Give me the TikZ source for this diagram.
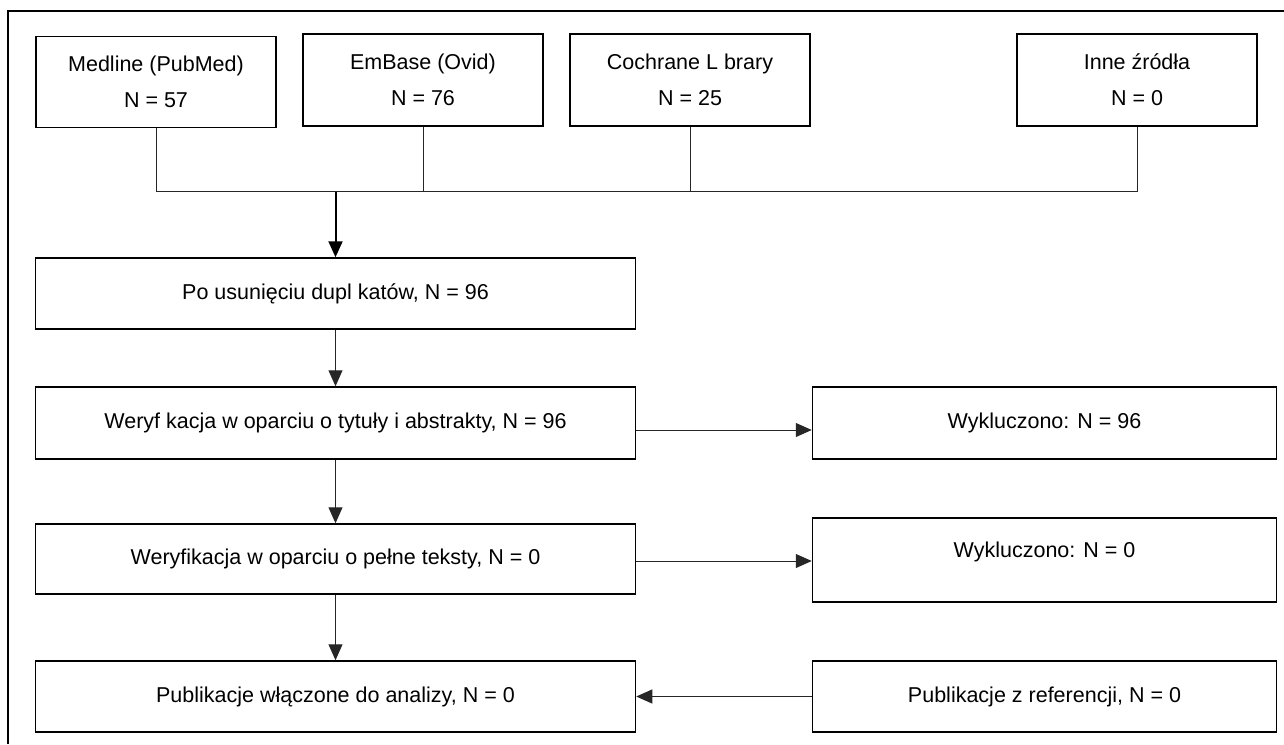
\documentclass[tikz,border=0pt]{standalone}
\usepackage{fontspec}
\setmainfont{Liberation Sans}
\usetikzlibrary{arrows.meta}
\begin{document}
\begin{tikzpicture}[x=1pt,y=-1pt,
  bx/.style={draw=black, line width=1.5pt, inner sep=0pt, align=center,
    font=\fontsize{21.5}{36}\selectfont, anchor=center},
  src/.style={bx, minimum width=240pt, minimum height=92pt},
  wide/.style={bx, minimum width=600pt, minimum height=71pt},
  side/.style={bx, minimum width=464pt, minimum height=71pt},
  conn/.style={draw=black!85, line width=1pt},
  arr/.style={conn, -{Triangle[length=16pt,width=14pt]}},
  frame/.style={draw=black, line width=1.2pt}]
\useasboundingbox (0,0) rectangle (1284,744);
\draw[frame] (8,744) -- (8,11) -- (1284,11);

\node[src, minimum height=91pt] (med) at (156,82) {Medline (PubMed)\\N = 57};
\node[src] (emb) at (423,80) {EmBase (Ovid)\\N = 76};
\node[src] (coch) at (690,80) {Cochrane L brary\\N = 25};
\node[src] (inne) at (1137,80) {Inne źródła\\N = 0};

\node[wide] (dup) at (335.5,293.5) {Po usunięciu dupl katów, N = 96};
\node[wide, minimum height=72pt] (wer1) at (335.5,423) {Weryf kacja w oparciu o tytuły i abstrakty, N = 96};
\node[side, minimum height=72pt] (wyk1) at (1044.5,423) {Wykluczono: N = 96};
\node[wide, minimum height=70pt] (wer2) at (335.5,559) {Weryfikacja w oparciu o pełne teksty, N = 0};
\node[side, minimum height=84pt] (wyk2) at (1044.5,560) {};
\node[font=\fontsize{21.5}{36}\selectfont, inner sep=0pt] (wyk2t) at ([yshift=8pt]wyk2.center) {Wykluczono: N = 0};
\node[wide] (pub) at (335.5,696.5) {Publikacje włączone do analizy, N = 0};
\node[side] (ref) at (1044.5,696.5) {Publikacje z referencji, N = 0};

\coordinate (jL) at (156,191.5);
\coordinate (jR) at (1137,191.5);
\draw[conn] (med.south) -- (jL) -- (jR) -- (inne.south);
\draw[conn] (emb.south) -- (emb.south |- jL);
\draw[conn] (coch.south) -- (coch.south |- jL);
\draw[arr, line width=2pt, draw=black] (dup.north |- jL) -- (dup.north);

\draw[arr] (dup.south) -- (wer1.north);
\draw[arr] ([yshift=-7pt]wer1.east) -- ([yshift=-7pt]wyk1.west);
\draw[arr] (wer1.south) -- (wer2.north);
\draw[arr] ([yshift=-2pt]wer2.east) -- ([yshift=-2pt]wer2.east -| wyk2.west);
\draw[arr] (wer2.south) -- (pub.north);
\draw[arr] (ref.west) -- (pub.east);
\end{tikzpicture}
\end{document}
